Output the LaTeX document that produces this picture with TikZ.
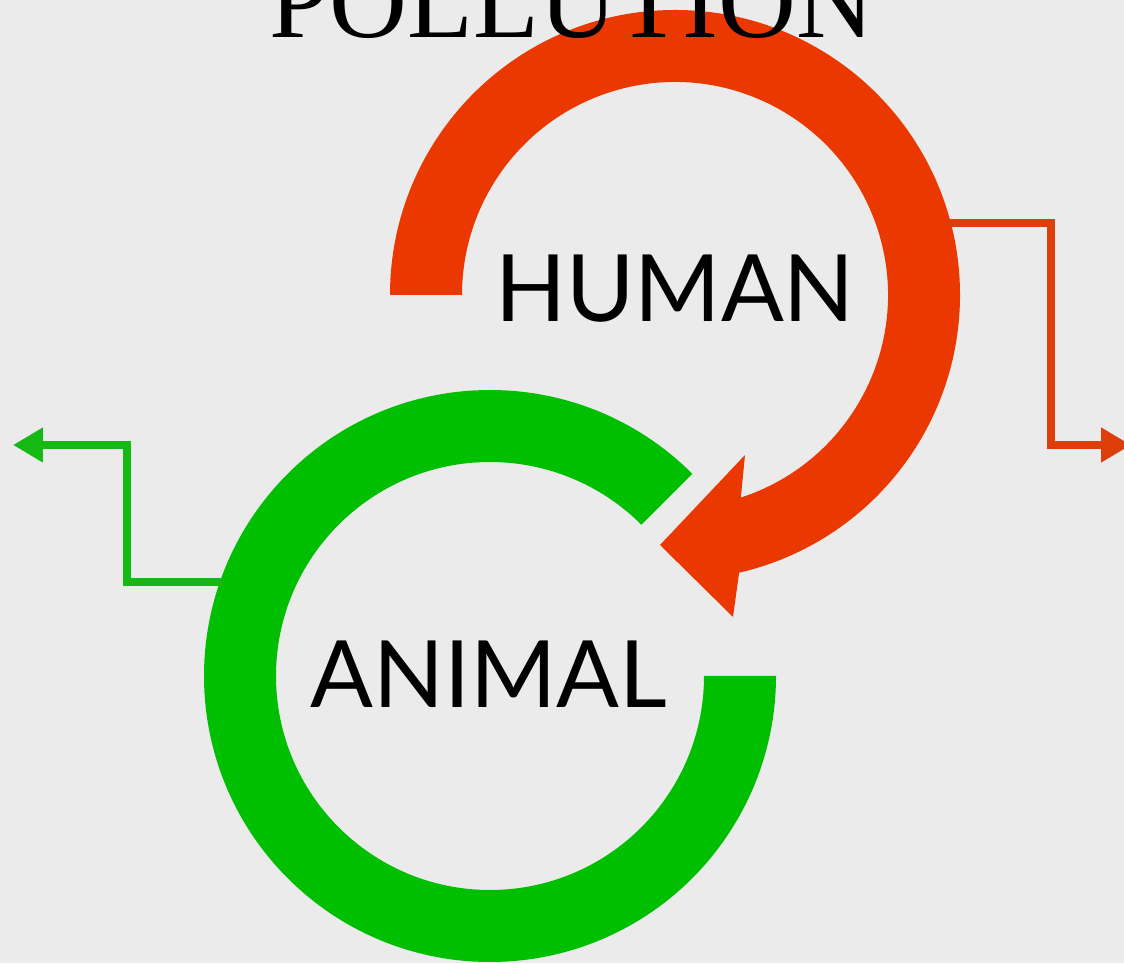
\documentclass[tikz,border=0pt]{standalone}
\usepackage{fontspec}
\setmainfont{Liberation Serif}
\newfontfamily\labelfont{Lato}
\usetikzlibrary{arrows.meta,calc}
\definecolor{bgc}{RGB}{235,235,235}
\definecolor{redc}{RGB}{234,56,0}
\definecolor{greenc}{RGB}{0,190,0}
\definecolor{redline}{RGB}{222,62,10}
\definecolor{greenline}{RGB}{20,185,20}
\tikzset{
  ringlabel/.style={font=\labelfont\fontsize{52.9}{60}\selectfont, text=black, inner sep=0pt},
  titlestyle/.style={font=\fontsize{61.4}{70}\selectfont, text=black, inner sep=0pt, anchor=base},
  flowline/.style={line width=4.5pt, line join=miter, -{Triangle[length=0.6cm,width=0.66cm]}}
}
\begin{document}
\begin{tikzpicture}[x=0.02cm,y=0.02cm]
\fill[bgc] (0,0) rectangle (1124,963);
\useasboundingbox (0,0) rectangle (1124,963);
% red ring with arrowhead (center 675,668)
\fill[redc] (390,668) arc[start angle=180, end angle=-77, radius=285]
  -- (733,346) -- (660,418) -- (745,508) -- ($(675,668)+(-72:213)$) 
  arc[start angle=-72, end angle=180, radius=213] -- cycle;
% green ring (center 490,287)
\fill[greenc] ($(490,287)+(45:286)$) arc[start angle=45, end angle=360, radius=286]
  -- (704,287) arc[start angle=360, end angle=45, radius=214] -- cycle;
% title
\node[titlestyle] (title) at (572,925) {POLLUTION};
% labels
\node[ringlabel] (human) at (675,674) {HUMAN};
\node[ringlabel] (animal) at (489,289) {ANIMAL};
% connectors
\coordinate (redout) at (948,740);
\coordinate (redend) at (1131,518);
\coordinate (greenout) at (222,381);
\coordinate (greenend) at (13,518);
\draw[flowline, redline] (redout) -- (1051,740) -- (1051,518) -- (redend);
\draw[flowline, greenline] (greenout) -- (127,381) -- (127,518) -- (greenend);
\end{tikzpicture}
\end{document}
